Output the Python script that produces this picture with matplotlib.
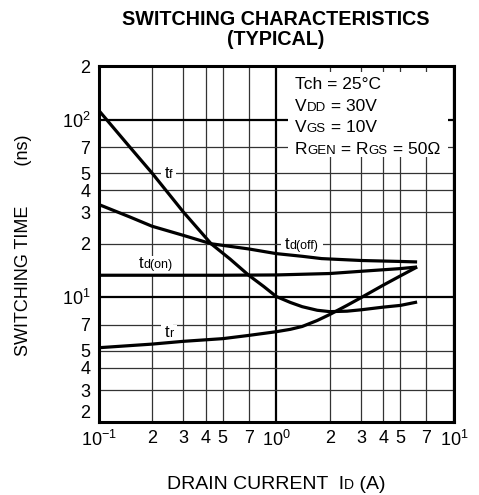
import matplotlib
matplotlib.use('Agg')
import matplotlib.pyplot as plt
from matplotlib import transforms as mtransforms
from matplotlib.patches import Rectangle

plt.rcParams['font.family'] = ['Liberation Sans', 'DejaVu Sans']
plt.rcParams['mathtext.default'] = 'regular'

# ---- data ----
I_tf = [0.1, 0.15, 0.2, 0.3, 0.43, 0.55, 0.7, 0.85, 1.0, 1.2, 1.4, 1.7, 2.0, 2.5, 3.0, 4.0, 5.0, 6.2]
t_f = [113, 70, 50, 30.2, 20, 16.4, 13.3, 11.5, 10.1, 9.35, 8.85, 8.45, 8.3, 8.35, 8.5, 8.8, 9.0, 9.4]

I_toff = [0.1, 0.15, 0.2, 0.3, 0.43, 0.7, 1.0, 1.4, 1.8, 3.0, 5.0, 6.2]
t_doff = [33.3, 28.3, 25.1, 22.3, 20, 18.7, 17.6, 17.0, 16.5, 16.1, 15.9, 15.8]

I_ton = [0.1, 0.5, 1.0, 2.0, 3.0, 5.0, 6.2]
t_don = [13.3, 13.3, 13.35, 13.6, 14.0, 14.5, 14.8]

I_tr = [0.1, 0.2, 0.3, 0.5, 0.7, 1.0, 1.2, 1.4, 1.7, 2.0, 2.5, 3.0, 4.0, 5.0, 6.2]
t_r = [5.2, 5.45, 5.65, 5.85, 6.1, 6.4, 6.6, 6.85, 7.4, 8.0, 9.0, 9.95, 11.7, 13.2, 14.8]

x_major = [0.1, 1, 10]
x_major_labels = [r'$10^{-1}$', r'$10^{0}$', r'$10^{1}$']
x_minor = [0.2, 0.3, 0.4, 0.5, 0.7, 2, 3, 4, 5, 7]
x_minor_labels = ['2', '3', '4', '5', '7', '2', '3', '4', '5', '7']
y_major = [10, 100]
y_major_labels = [r'$10^{1}$', r'$10^{2}$']
y_minor = [2, 3, 4, 5, 7, 20, 30, 40, 50, 70, 200]
y_minor_labels = ['2', '3', '4', '5', '7', '2', '3', '4', '5', '7', '2']

W, H = 479, 495
fig = plt.figure(figsize=(W / 100, H / 100), dpi=100)
L, R, T, B = 98.5, 454, 66, 421.5
ax = fig.add_axes([L / W, 1 - B / H, (R - L) / W, (B - T) / H])
ax.set_xscale('log')
ax.set_yscale('log')
ax.set_xlim(0.1, 10)
ax.set_ylim(2, 200)

ax.set_xticks(x_major)
ax.set_xticklabels(x_major_labels)
ax.set_xticks(x_minor, minor=True)
ax.set_xticklabels(x_minor_labels, minor=True)
ax.set_yticks(y_major)
ax.set_yticklabels(y_major_labels)
ax.set_yticks(y_minor, minor=True)
ax.set_yticklabels(y_minor_labels, minor=True)
ax.tick_params(which='both', length=0, labelsize=13, pad=6)
# lowest y label sits a little above the corner, as in the reference
ax.get_yticklabels(minor=True)[0].set_verticalalignment('bottom')

ax.grid(which='major', color='black', lw=1.6)
ax.grid(which='minor', color='#333333', lw=0.9)
ax.set_axisbelow(True)
for s in ax.spines.values():
    s.set_linewidth(2.2)
    s.set_zorder(6)

for xs, ys in [(I_tf, t_f), (I_toff, t_doff), (I_ton, t_don), (I_tr, t_r)]:
    ax.plot(xs, ys, color='black', lw=2.3, zorder=3, solid_joinstyle='round',
            solid_capstyle='butt')

# white panel behind the condition text
ax.add_patch(Rectangle((1.17, 61.5), 9.25 - 1.17, 184.8 - 61.5, facecolor='white',
                       edgecolor='none', zorder=1))

renderer = fig.canvas.get_renderer()


def widths(pieces):
    out = []
    for s, size in pieces:
        t = fig.text(0, 0, s, fontsize=size)
        out.append(t.get_window_extent(renderer).width * 72 / fig.dpi)
        t.remove()
    return out


def rich(parent, base, x, y, pieces, ha='left', bg=False, pad=2.0, zorder=5):
    ws = widths(pieces)
    off = 0.0
    if ha == 'center':
        off = -sum(ws) / 2
    for (s, size), w in zip(pieces, ws):
        tr = mtransforms.offset_copy(base, fig=fig, x=off, y=0, units='points')
        if bg:
            parent.text(x, y, s, transform=tr, fontsize=size, ha='left', va='baseline',
                        color=(0, 0, 0, 0), zorder=2, clip_on=False,
                        bbox=dict(facecolor='white', edgecolor='none', pad=pad))
        parent.text(x, y, s, transform=tr, fontsize=size, ha='left', va='baseline',
                    color='black', zorder=zorder, clip_on=False)
        off += w


big, small = 12, 9
# curve labels
rich(ax, ax.transData, 0.235, 46.8, [('t', big), ('f', small)], bg=True, pad=2.5)
rich(ax, ax.transData, 0.168, 14.6, [('t', big), ('d(on)', small)], bg=True, pad=2.0)
rich(ax, ax.transData, 0.235, 5.97, [('t', big), ('r', small)], bg=True, pad=2.5)
rich(ax, ax.transData, 1.12, 18.7, [('t', big), ('d(off)', small)], bg=True, pad=3.0)

# conditions
cx = 295 / W
rich(fig, fig.transFigure, cx, 1 - 89 / H, [('Tch = 25°C', 12.5)])
rich(fig, fig.transFigure, cx, 1 - 111 / H, [('V', 12.5), ('DD', 9.5), (' = 30V', 12.5)])
rich(fig, fig.transFigure, cx, 1 - 132 / H, [('V', 12.5), ('GS', 9.5), (' = 10V', 12.5)])
rich(fig, fig.transFigure, cx, 1 - 153.5 / H,
     [('R', 12.5), ('GEN', 9.5), (' = R', 12.5), ('GS', 9.5), (' = 50Ω', 12.5)])

# title
fig.text(276 / W, 1 - 25 / H, 'SWITCHING CHARACTERISTICS', ha='center', va='baseline',
         fontsize=14.2, weight='bold')
fig.text(276 / W, 1 - 45 / H, '(TYPICAL)', ha='center', va='baseline',
         fontsize=14.2, weight='bold')

# axis labels
rich(fig, fig.transFigure, 276 / W, 1 - 489 / H,
     [('DRAIN CURRENT  I', 14), ('D', 10), (' (A)', 14)], ha='center')
fig.text(24 / W, 1 - 245 / H, 'SWITCHING TIME        (ns)', rotation=90, ha='center',
         va='center', fontsize=13)

fig.savefig('out.png', dpi=100)
